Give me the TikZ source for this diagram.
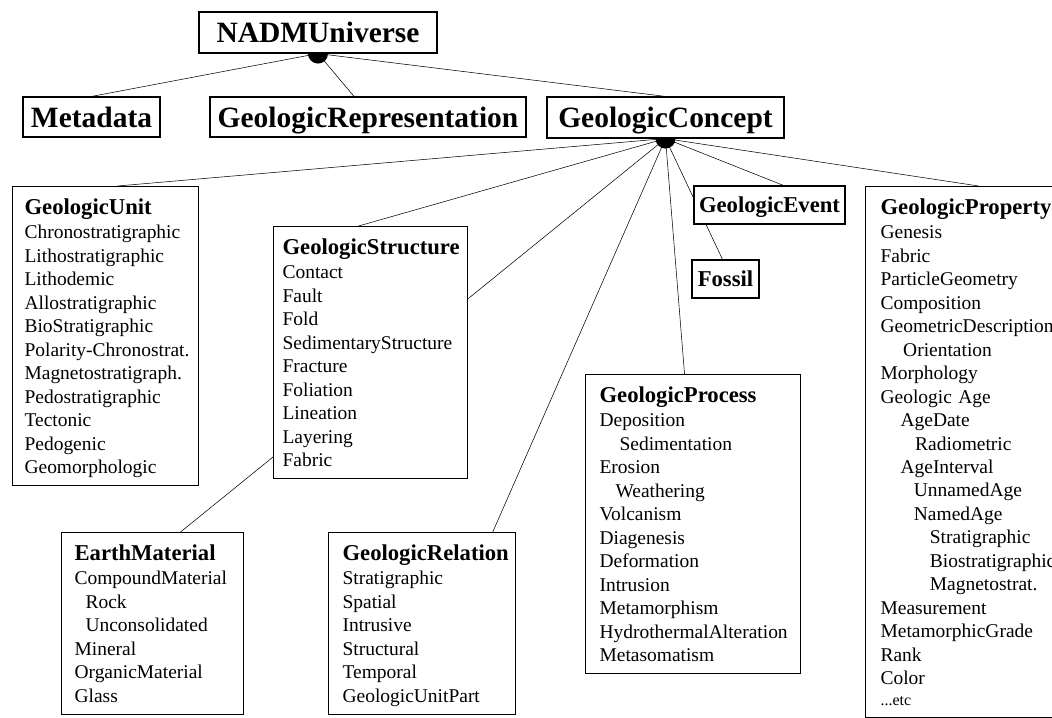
\documentclass[tikz,border=0pt]{standalone}
\usepackage{fontspec}
\setmainfont{Liberation Serif}
\usetikzlibrary{backgrounds}

\tikzset{
  topbox/.style={draw, fill=white, inner sep=0pt, text depth=0pt,
    font=\fontsize{22.1}{24}\selectfont\bfseries},
  smallbox/.style={draw, fill=white, inner sep=0pt, text depth=0pt,
    font=\fontsize{17}{20}\selectfont\bfseries},
  classbox/.style={draw, fill=white, anchor=north west, align=left,
    inner ysep=9pt, font=\fontsize{14.6}{17.6}\selectfont},
  hub/.style={circle, fill=black, inner sep=0pt, minimum size=15pt},
}
\hyphenpenalty=10000
\exhyphenpenalty=10000
\newcommand{\ctitle}[1]{{\fontsize{17}{17.6}\selectfont\bfseries #1}\\[0.8pt]}
\newcommand{\ind}[1]{\hspace*{#1}}

\begin{document}
\begin{tikzpicture}[x=0.75pt, y=-0.75pt, line width=0.85pt]
\useasboundingbox (0,0) rectangle (1052,717);
\clip (0,0) rectangle (1052,717);

% top level
\node[topbox, minimum width=178.5pt, minimum height=30.75pt] (univ) at (318,32.5) {NADMUniverse};
\node[topbox, minimum width=102.75pt, minimum height=30pt] (meta) at (91.5,117) {Metadata};
\node[topbox, minimum width=237pt, minimum height=30pt] (rep) at (368,117) {GeologicRepresentation};
\node[topbox, minimum width=177.75pt, minimum height=30.75pt] (concept) at (665.5,117.5) {GeologicConcept};

% concept classes
\node[classbox, inner xsep=9pt, text width=121.5pt] (unit) at (12,186) {\ctitle{GeologicUnit}
Chronostratigraphic\\ Lithostratigraphic\\ Lithodemic\\ Allostratigraphic\\ BioStratigraphic\\
\mbox{Polarity-Chronostrat.}\\ Magnetostratigraph.\\ Pedostratigraphic\\ Tectonic\\ Pedogenic\\ \smash{Geomorphologic}};
\node[classbox, inner xsep=6.75pt, text width=132pt] (struct) at (273,226) {\ctitle{GeologicStructure}
Contact\\ Fault\\ Fold\\ SedimentaryStructure\\ Fracture\\ Foliation\\ Lineation\\ Layering\\ Fabric};
\node[classbox, inner xsep=9.75pt, text width=117pt] (mat) at (61,532) {\ctitle{EarthMaterial}
CompoundMaterial\\ \ind{8.25pt}Rock\\ \ind{8.25pt}Unconsolidated\\ Mineral\\ OrganicMaterial\\ Glass};
\node[classbox, inner xsep=10.5pt, text width=119.25pt] (rel) at (328,532) {\ctitle{GeologicRelation}
Stratigraphic\\ Spatial\\ Intrusive\\ Structural\\ Temporal\\ \smash{GeologicUnitPart}};
\node[classbox, inner xsep=10.5pt, text width=140.25pt] (proc) at (585,374) {\ctitle{GeologicProcess}
Deposition\\ \ind{15pt}Sedimentation\\ Erosion\\ \ind{12pt}Weathering\\ Volcanism\\ Diagenesis\\
Deformation\\ Intrusion\\ Metamorphism\\ HydrothermalAlteration\\ Metasomatism};
\node[classbox, inner xsep=11.25pt, text width=128.25pt] (prop) at (865,186) {\ctitle{GeologicProperty}
Genesis\\ Fabric\\ ParticleGeometry\\ Composition\\ GeometricDescription\\ \ind{17pt}Orientation\\
Morphology\\ Geologic Age\\ \ind{15pt}AgeDate\\ \ind{26pt}Radiometric\\ \ind{15pt}AgeInterval\\
\ind{25pt}UnnamedAge\\ \ind{25pt}NamedAge\\ \ind{37pt}Stratigraphic\\ \ind{37pt}Biostratigraphic\\
\ind{37pt}Magnetostrat.\\ Measurement\\ MetamorphicGrade\\ Rank\\ Color\\[-2pt] {\fontsize{12}{14}\selectfont ...etc}};
\node[smallbox, minimum width=50.25pt, minimum height=28.5pt] (fossil) at (725.5,279) {Fossil};
\node[smallbox, minimum width=113.25pt, minimum height=28.5pt] (event) at (769.5,205) {GeologicEvent};

\begin{scope}[on background layer, line width=0.85pt]
\node[hub] (d1) at (univ.south) {};
\node[hub] (d2) at (concept.south) {};

\draw (d1.center) -- (meta.north);
\draw (d1.center) -- ([xshift=-10.5pt]rep.north);
\draw (d1.center) -- (concept.north);

\draw (d2.center) -- ([xshift=9pt]unit.north);
\draw (d2.center) -- ([xshift=-9pt]struct.north);
\draw (d2.center) -- ([xshift=21pt]mat.north);
\draw (d2.center) -- ([xshift=53pt]rel.north);
\draw (d2.center) -- ([xshift=-6.4pt]proc.north);
\draw (d2.center) -- ([xshift=-2.25pt]fossil.north);
\draw (d2.center) -- ([xshift=10.5pt]event.north);
\draw (d2.center) -- ([xshift=9.4pt]prop.north);
\end{scope}

\end{tikzpicture}
\end{document}
